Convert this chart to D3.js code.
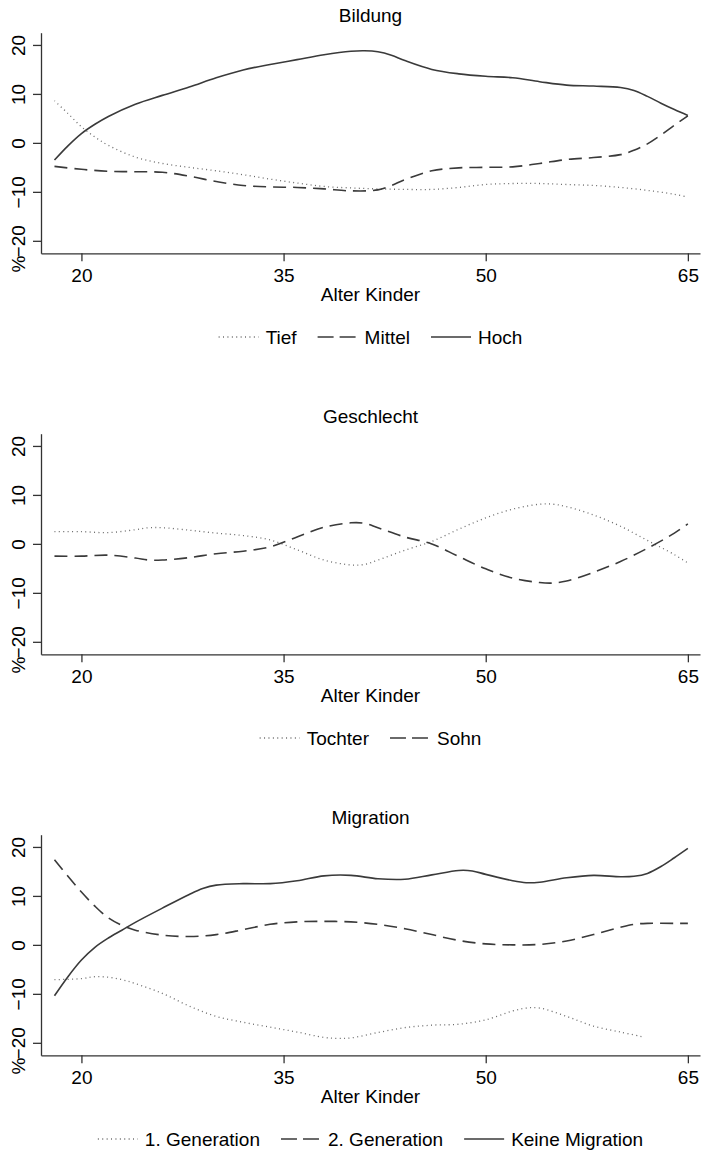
<!DOCTYPE html>
<html>
<head>
<meta charset="utf-8">
<script src="https://cdn.jsdelivr.net/npm/d3@7"></script>
<style>
  body { margin: 0; background: #fff; }
  svg { display: block; font-family: "Liberation Sans", Arial, sans-serif; }
</style>
</head>
<body>
<div id="chart"></div>
<script>
// Bildung
const bildTiefAge = [18, 19, 20, 21, 22, 24, 26, 28, 30, 32, 34, 36, 38, 40, 42, 44, 46, 48, 50, 52, 54, 56, 58, 60, 62, 64, 65];
const bildTief = [8.6, 6.0, 3.3, 1.2, -0.5, -2.9, -4.2, -5.0, -5.7, -6.5, -7.4, -8.2, -8.9, -9.2, -9.4, -9.5, -9.5, -9.1, -8.5, -8.3, -8.3, -8.5, -8.7, -9.1, -9.7, -10.5, -11.1];
const bildMittelAge = [18, 20, 22, 24, 26, 28, 30, 32, 34, 36, 38, 40, 42, 43, 44, 46, 48, 50, 52, 54, 56, 58, 60, 61, 62, 63, 64, 65];
const bildMittel = [-4.8, -5.4, -5.8, -5.9, -6.0, -6.8, -7.9, -8.7, -9.0, -9.1, -9.4, -9.8, -9.6, -8.7, -7.5, -5.7, -5.1, -5.0, -4.9, -4.2, -3.4, -3.0, -2.4, -1.5, -0.2, 1.6, 3.6, 5.5];
const bildHochAge = [18, 19, 20, 21, 22, 24, 26, 28, 30, 32, 34, 36, 38, 40, 41, 42, 43, 44, 46, 48, 50, 52, 54, 56, 58, 60, 61, 62, 63, 64, 65];
const bildHoch = [-3.5, -0.6, 1.9, 3.8, 5.4, 7.9, 9.7, 11.4, 13.3, 14.9, 16.0, 17.0, 18.0, 18.7, 18.8, 18.6, 17.9, 16.8, 15.0, 14.1, 13.6, 13.3, 12.5, 11.8, 11.6, 11.3, 10.7, 9.5, 8.1, 6.8, 5.6];

// Geschlecht
const geschAge = [18, 20, 22, 24, 25, 26, 28, 30, 32, 34, 36, 38, 40, 41, 42, 44, 46, 48, 50, 52, 54, 55, 56, 58, 60, 62, 64, 65];
const geschTochter = [2.5, 2.5, 2.3, 2.9, 3.3, 3.3, 2.8, 2.2, 1.7, 0.8, -1.2, -3.3, -4.3, -4.2, -3.3, -1.3, 0.5, 3.0, 5.3, 7.1, 8.1, 8.1, 7.6, 5.9, 3.6, 0.7, -2.2, -3.9];
const geschSohn = [-2.5, -2.5, -2.3, -2.9, -3.3, -3.3, -2.8, -2.0, -1.5, -0.6, 1.4, 3.4, 4.3, 4.2, 3.3, 1.4, 0.0, -2.6, -5.1, -7.0, -7.9, -8.0, -7.6, -5.8, -3.6, -0.9, 2.2, 4.1];

// Migration
const migGen1Age = [18, 20, 21, 22, 23, 24, 26, 28, 30, 32, 34, 36, 38, 39, 40, 42, 44, 46, 48, 50, 52, 53, 54, 56, 58, 60, 61.7];
const migGen1 = [-7.1, -6.9, -6.5, -6.6, -7.1, -7.9, -9.9, -12.5, -14.6, -15.8, -16.8, -17.8, -18.9, -19.1, -19.0, -17.9, -16.9, -16.4, -16.2, -15.3, -13.5, -12.9, -12.9, -14.6, -16.6, -17.8, -18.8];
const migGen2Age = [18, 19, 20, 21, 22, 23, 24, 26, 28, 30, 32, 34, 36, 38, 40, 42, 44, 46, 48, 50, 52, 54, 56, 58, 60, 61, 62, 64, 65];
const migGen2 = [17.4, 14.0, 10.8, 7.9, 5.5, 4.0, 3.0, 2.0, 1.7, 2.1, 3.1, 4.2, 4.7, 4.8, 4.7, 4.2, 3.3, 2.1, 0.9, 0.2, 0.0, 0.1, 0.8, 2.1, 3.6, 4.2, 4.4, 4.4, 4.4];
const migKeineAge = [18, 19, 20, 21, 22, 23, 24, 26, 28, 29, 30, 32, 34, 36, 38, 40, 42, 44, 46, 48, 49, 50, 52, 53, 54, 56, 58, 60, 61, 62, 63, 64, 65];
const migKeine = [-10.4, -6.5, -3.1, -0.5, 1.4, 3.0, 4.6, 7.5, 10.3, 11.5, 12.2, 12.5, 12.5, 13.1, 14.1, 14.2, 13.5, 13.4, 14.3, 15.2, 15.1, 14.4, 13.1, 12.7, 12.8, 13.7, 14.2, 13.9, 14.0, 14.6, 16.0, 17.8, 19.7];

const xTicks = [20, 35, 50, 65];
const yTicks = [-20, -10, 0, 10, 20];
const yTickLabels = ["\u221220", "\u221210", "0", "10", "20"];

const panels = [
  { title: "Bildung", series: [
    { name: "Tief", age: bildTiefAge, val: bildTief, style: "dot" },
    { name: "Mittel", age: bildMittelAge, val: bildMittel, style: "dash" },
    { name: "Hoch", age: bildHochAge, val: bildHoch, style: "solid" }] },
  { title: "Geschlecht", series: [
    { name: "Tochter", age: geschAge, val: geschTochter, style: "dot" },
    { name: "Sohn", age: geschAge, val: geschSohn, style: "dash" }] },
  { title: "Migration", series: [
    { name: "1. Generation", age: migGen1Age, val: migGen1, style: "dot" },
    { name: "2. Generation", age: migGen2Age, val: migGen2, style: "dash" },
    { name: "Keine Migration", age: migKeineAge, val: migKeine, style: "solid" }] }
];

const W = 704, H = 1153;
const fs = 19;
const plot = { left: 41, right: 700, top: 32.7, bottom: 253.3 };
const panelStep = 401;

const styles = {
  solid: { stroke: "#3a3a3a", width: 1.6, dash: null, legendDash: null },
  dash: { stroke: "#3a3a3a", width: 1.6, dash: "13,7", legendDash: "16,6" },
  dot: { stroke: "#6a6a6a", width: 1.3, dash: "1,3.4", legendDash: "1,3.4" }
};

const svg = d3.select("#chart").append("svg")
  .attr("width", W)
  .attr("height", H);

const x = d3.scaleLinear().domain([17.0, 65.9]).range([plot.left, plot.right]);
const y = d3.scaleLinear().domain([-22.55, 22.5]).range([plot.bottom, plot.top]);

panels.forEach((p, i) => {
  const g = svg.append("g").attr("transform", `translate(0,${i * panelStep})`);

  // title
  g.append("text")
    .attr("x", (plot.left + plot.right) / 2)
    .attr("y", 22)
    .attr("text-anchor", "middle")
    .attr("font-size", fs)
    .text(p.title);

  // axes
  const xAxis = g.append("g")
    .attr("transform", `translate(0,${plot.bottom})`)
    .call(d3.axisBottom(x).tickValues(xTicks).tickSize(8).tickSizeOuter(0).tickPadding(7));
  xAxis.selectAll("text").attr("font-size", fs).attr("fill", "#000").attr("font-family", null);

  const yAxis = g.append("g")
    .attr("transform", `translate(${plot.left},0)`)
    .call(d3.axisLeft(y).tickValues(yTicks).tickSize(8).tickSizeOuter(0)
      .tickFormat((d, k) => yTickLabels[k]));
  yAxis.selectAll("text")
    .attr("font-size", fs).attr("fill", "#000").attr("font-family", null)
    .attr("text-anchor", "middle")
    .attr("transform", "rotate(-90)")
    .attr("x", 0).attr("y", -16).attr("dy", 0);

  [xAxis, yAxis].forEach(a => {
    a.select(".domain").attr("stroke", "#333").attr("stroke-width", 1.3);
    a.selectAll(".tick line").attr("stroke", "#333").attr("stroke-width", 1.3);
  });

  // axis titles
  g.append("text")
    .attr("x", (plot.left + plot.right) / 2)
    .attr("y", 301)
    .attr("text-anchor", "middle")
    .attr("font-size", fs)
    .text("Alter Kinder");

  g.append("text")
    .attr("transform", "translate(25,264) rotate(-90)")
    .attr("text-anchor", "middle")
    .attr("font-size", fs)
    .text("%");

  // lines
  const line = d3.line()
    .x(d => x(d[0]))
    .y(d => y(d[1]))
    .curve(d3.curveCatmullRom.alpha(0.5));

  p.series.forEach(s => {
    const st = styles[s.style];
    g.append("path")
      .datum(s.age.map((a, k) => [a, s.val[k]]))
      .attr("fill", "none")
      .attr("stroke", st.stroke)
      .attr("stroke-width", st.width)
      .attr("stroke-dasharray", st.dash)
      .attr("d", line);
  });

  // legend
  const leg = g.append("g");
  let cx = 0;
  p.series.forEach((s, k) => {
    const st = styles[s.style];
    const it = leg.append("g").attr("transform", `translate(${cx},0)`);
    it.append("line")
      .attr("x1", 0).attr("x2", 40)
      .attr("y1", -7).attr("y2", -7)
      .attr("stroke", st.stroke)
      .attr("stroke-width", st.width)
      .attr("stroke-dasharray", st.legendDash);
    const t = it.append("text")
      .attr("x", 47).attr("y", 0)
      .attr("font-size", fs)
      .text(s.name);
    cx += 47 + t.node().getComputedTextLength() + 21;
  });
  const legW = cx - 21;
  leg.attr("transform", `translate(${(plot.left + plot.right) / 2 - legW / 2},344)`);
});
</script>
</body>
</html>
